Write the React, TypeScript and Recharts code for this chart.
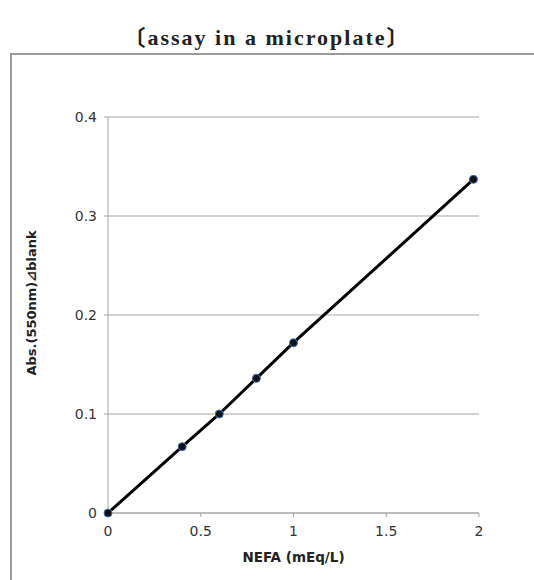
import { LineChart, Line, XAxis, YAxis, CartesianGrid } from "recharts";

// NEFA concentration (mEq/L) vs absorbance difference
const nefaValues = [0, 0.4, 0.6, 0.8, 1.0, 1.97];
const absValues = [0, 0.067, 0.1, 0.136, 0.172, 0.337];
const xTicks = [0, 0.5, 1, 1.5, 2];
const yTicks = [0, 0.1, 0.2, 0.3, 0.4];

const data = nefaValues.map((x, i) => ({ nefa: x, abs: absValues[i] }));

const axisColor = "#a6a6a6";
const tickStyle = { fontSize: 14, fill: "#333", fontFamily: "DejaVu Sans" };

export default function App() {
  return (
    <div
      style={{
        position: "absolute",
        left: 0,
        top: 0,
        width: 534,
        height: 580,
        background: "#fff",
        overflow: "hidden",
      }}
    >
      <div
        style={{
          position: "absolute",
          top: 19,
          left: 0,
          width: 534,
          textAlign: "center",
          fontFamily: "'Liberation Serif', 'Noto Sans CJK JP', serif",
          fontWeight: "bold",
          fontSize: 22,
          letterSpacing: 2,
          color: "#222",
        }}
      >
        〔assay in a microplate〕
      </div>
      <div
        style={{
          position: "absolute",
          left: 10,
          top: 53,
          width: 600,
          height: 600,
          borderLeft: "2px solid #9a9a9a",
          borderTop: "2px solid #9a9a9a",
        }}
      />
      <div style={{ position: "absolute", left: 0, top: 0 }}>
        <LineChart
          width={534}
          height={580}
          data={data}
          margin={{ top: 117, right: 55, bottom: 37, left: 48 }}
        >
          <CartesianGrid vertical={false} stroke={axisColor} strokeWidth={1} />
          <XAxis
            dataKey="nefa"
            type="number"
            domain={[0, 2]}
            ticks={xTicks}
            tickFormatter={(v) => String(v)}
            height={30}
            stroke={axisColor}
            tickSize={4}
            tickMargin={9}
            tick={tickStyle}
            label={{
              content: (props: any) => {
                const vb = props.viewBox;
                return (
                  <text
                    x={vb.x + vb.width / 2}
                    y={vb.y + 49}
                    textAnchor="middle"
                    fontFamily="DejaVu Sans"
                    fontWeight="bold"
                    fontSize={13.5}
                    fill="#222"
                  >
                    NEFA (mEq/L)
                  </text>
                );
              },
            }}
          />
          <YAxis
            dataKey="abs"
            type="number"
            domain={[0, 0.4]}
            ticks={yTicks}
            tickFormatter={(v) => String(v)}
            width={60}
            stroke={axisColor}
            tickSize={4}
            tickMargin={7}
            tick={tickStyle}
            label={{
              content: (props: any) => {
                const vb = props.viewBox;
                const cy = vb.y + vb.height / 2 - 12;
                return (
                  <text
                    x={31}
                    y={cy}
                    transform={`rotate(-90, 31, ${cy})`}
                    textAnchor="middle"
                    dominantBaseline="central"
                    fontFamily="DejaVu Sans"
                    fontWeight="bold"
                    fontSize={13}
                    fill="#222"
                  >
                    Abs.(550nm)⊿blank
                  </text>
                );
              },
            }}
          />
          <Line
            type="linear"
            dataKey="abs"
            stroke="#000"
            strokeWidth={3}
            dot={{ r: 4, fill: "#111", stroke: "#3a6fc0", strokeWidth: 1 }}
            isAnimationActive={false}
          />
        </LineChart>
      </div>
    </div>
  );
}
